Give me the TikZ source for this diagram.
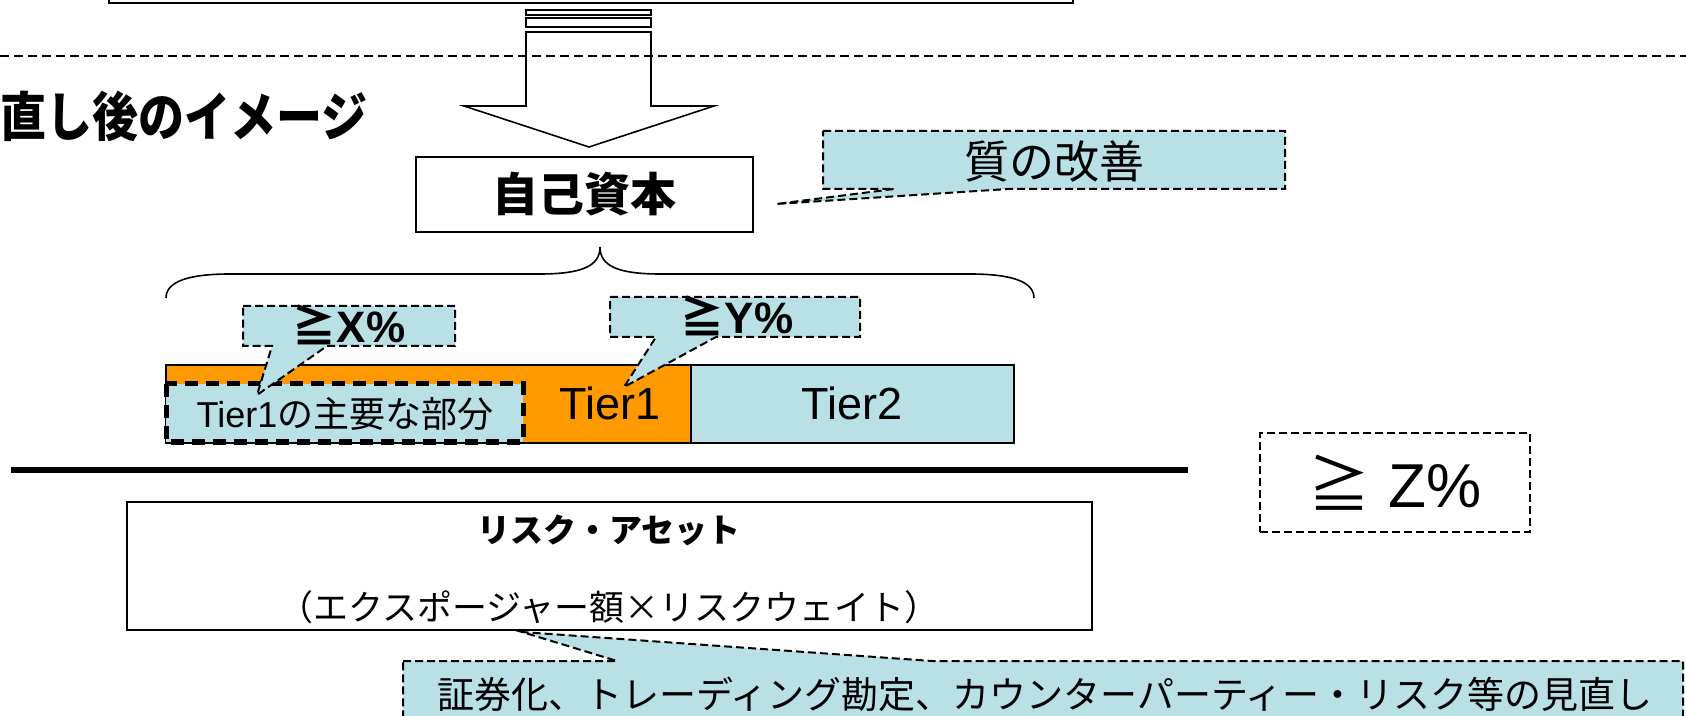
\documentclass[tikz,border=0pt]{standalone}
\usepackage{fontspec}
\setmainfont{Liberation Sans}
\newfontfamily\jp{Noto Sans CJK JP}
\definecolor{lb}{RGB}{185,224,228}
\definecolor{org}{RGB}{255,153,0}
\begin{document}
\begin{tikzpicture}[x=0.5pt,y=-0.5pt,
  box/.style={draw=black,line width=1pt},
  dsh/.style={draw=black,line width=1pt,dash pattern=on 4pt off 2pt},
  thickdash/.style={draw=black,line width=2.5pt,dash pattern=on 6.5pt off 4pt},
  txt/.style={inner sep=0pt,outer sep=0pt},
  fpx/.style={font=\fontsize{#1}{#1}\selectfont}]
\useasboundingbox (0,0) rectangle (1686,716);
\clip (0,0) rectangle (1686,716);
% top box (cut off)
\draw[box] (109,-20) rectangle (1073,3);
% striped block arrow
\draw[line width=0.8pt,fill=white] (526,32) -- (651,32) -- (651,106) -- (714,106) -- (589,147) -- (464,106) -- (526,106) -- cycle;
\draw[line width=0.8pt] (526,10) rectangle (651,15);
\draw[line width=0.8pt] (526,18) rectangle (651,27);
% dashed separator
\draw[line width=1pt,dash pattern=on 4.5pt off 2.5pt] (0,56) -- (1686,56);
% title
\node[txt,anchor=west,font=\jp\bfseries\fontsize{23pt}{23pt}\selectfont] (title) at (0,116) {\scalebox{1}[1.15]{直し後のイメージ}};
% own capital box
\node[box,minimum width=168.5pt,minimum height=37.5pt,inner sep=0pt,font=\jp\bfseries\fontsize{23pt}{23pt}\selectfont] (jiko) at (584.5,194.5) {自己資本};
% callout quality
\path[dsh,fill=lb] (823,131) -- (1285,131) -- (1285,189) -- (1008,189) -- (776,204) -- (894,189) -- (823,189) -- cycle;
\node[txt,font=\jp\fontsize{22.5pt}{22.5pt}\selectfont] (shitsu) at (1054,161) {質の改善};
% brace
\draw[line width=0.8pt] (166,298) .. controls (166,281) and (190,274) .. (230,274) -- (540,274)
  .. controls (582,274) and (600,266) .. (600,247)
  .. controls (600,266) and (618,274) .. (660,274) -- (970,274)
  .. controls (1010,274) and (1034,281) .. (1034,298);
% bar
\draw[box,fill=org] (166,365) rectangle (691,443);
\draw[box,fill=lb] (691,365) rectangle (1014,443);
\path[thickdash,fill=lb] (166,384) rectangle (523,442);
\node[txt,fpx=18pt] (main) at (345,414) {Tier1{\jp の主要な部分}};
\node[txt,fpx=22.5pt] (t1) at (610,403) {Tier1};
\node[txt,fpx=22.5pt] (t2) at (852,403) {Tier2};
% callout X
\path[dsh,fill=lb] (243,306) -- (455,306) -- (455,346) -- (327,346) -- (257,395) -- (272,346) -- (243,346) -- cycle;
\node[txt,fpx=22pt] (gx) at (349,325) {{\jp\bfseries ≧}\textbf{X\%}};
% callout Y
\path[dsh,fill=lb] (610,297) -- (860,297) -- (860,337) -- (716,337) -- (624,387) -- (656,337) -- (610,337) -- cycle;
\node[txt,fpx=22pt] (gy) at (737,316) {{\jp\bfseries ≧}\textbf{Y\%}};
% thick line
\draw[line width=3.25pt] (11,470) -- (1188,470);
% Z box
\node[dsh,minimum width=135pt,minimum height=49.5pt,inner sep=0pt,fpx=31pt] (gz) at (1395,482.5) {{\jp ≧} Z\%};
% risk asset box
\node[box,minimum width=482.5pt,minimum height=64pt] (risk) at (609.5,566) {};
\node[txt,font=\jp\bfseries\fontsize{16.5pt}{16.5pt}\selectfont] (risk1) at (609,530) {リスク・アセット};
\node[txt,font=\jp\fontsize{17.5pt}{17.5pt}\selectfont] (risk2) at (609,607) {（エクスポージャー額×リスクウェイト）};
% bottom callout
\coordinate (tipb) at (522,632);
\path[dsh,fill=lb] (403,661) -- (617,661) -- (tipb) -- (932,661) -- (1683,661) -- (1683,740) -- (403,740) -- cycle;
\node[txt,font=\jp\fontsize{18.5pt}{18.5pt}\selectfont] (bot) at (1045,694) {証券化、トレーディング勘定、カウンターパーティー・リスク等の見直し};
\end{tikzpicture}
\end{document}
